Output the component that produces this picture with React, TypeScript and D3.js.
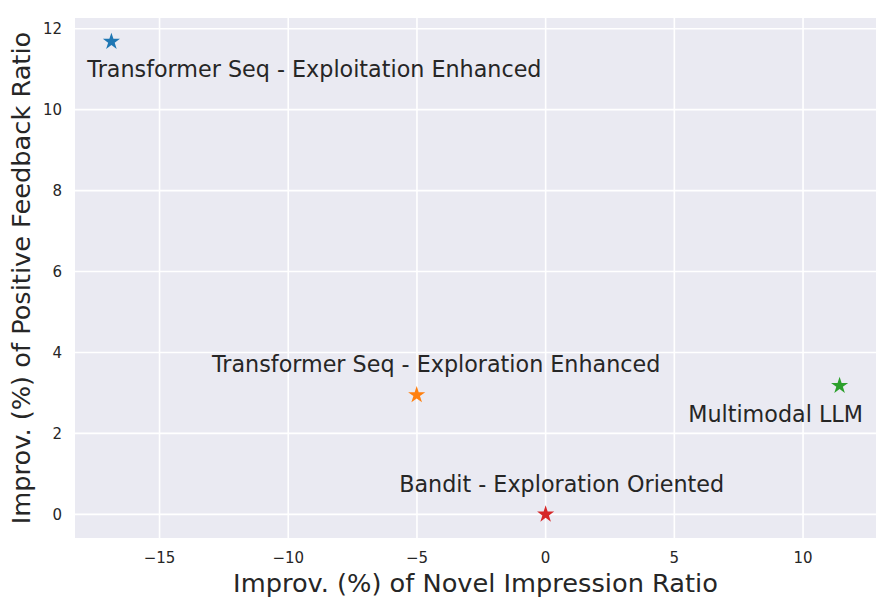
import React from "react";
import * as d3 from "d3";

const labels = [
  "Transformer Seq - Exploitation Enhanced",
  "Transformer Seq - Exploration Enhanced",
  "Multimodal LLM",
  "Bandit - Exploration Oriented",
];
const novelImpression = [-16.87, -5.01, 11.42, 0.0];
const positiveFeedback = [11.68, 2.95, 3.18, 0.0];
const colors = ["#1f77b4", "#ff7f0e", "#2ca02c", "#d62728"];
const xTicks = [-15, -10, -5, 0, 5, 10];
const yTicks = [0, 2, 4, 6, 8, 10, 12];
// label offsets in pixels relative to the point (dx to label center, dy to baseline)
const labelDx = [203, 19.5, -64, 16];
const labelDy = [35, -23, 36, -22];

const W = 892;
const H = 602;
const left = 75;
const right = 876;
const top = 18;
const bottom = 538;

function starPath(R: number) {
  const r = R * 0.381966;
  const pts: [number, number][] = d3.range(10).map((i) => {
    const a = (Math.PI / 5) * i - Math.PI / 2;
    const rad = i % 2 === 0 ? R : r;
    return [rad * Math.cos(a), rad * Math.sin(a)];
  });
  return d3.line()(pts) + "Z";
}

export default function App() {
  const xExt = d3.extent(novelImpression) as [number, number];
  const yExt = d3.extent(positiveFeedback) as [number, number];
  const xm = (xExt[1] - xExt[0]) * 0.05;
  const ym = (yExt[1] - yExt[0]) * 0.05;
  const x = d3.scaleLinear().domain([xExt[0] - xm, xExt[1] + xm]).range([left, right]);
  const y = d3.scaleLinear().domain([yExt[0] - ym, yExt[1] + ym]).range([bottom, top]);
  const star = starPath(9);
  const font = "DejaVu Sans, sans-serif";
  const txt = "#262626";
  return (
    <svg
      width={W}
      height={H}
      style={{ position: "absolute", left: 0, top: 0, background: "#fff" }}
      fontFamily={font}
    >
      <rect x={left} y={top} width={right - left} height={bottom - top} fill="#EAEAF2" />
      {xTicks.map((t) => (
        <line key={"gx" + t} x1={x(t)} x2={x(t)} y1={top} y2={bottom} stroke="#fff" strokeWidth={1.6} />
      ))}
      {yTicks.map((t) => (
        <line key={"gy" + t} x1={left} x2={right} y1={y(t)} y2={y(t)} stroke="#fff" strokeWidth={1.6} />
      ))}
      {xTicks.map((t) => (
        <text key={"tx" + t} x={x(t)} y={562.7} textAnchor="middle" fontSize={15} fill={txt}>
          {t < 0 ? "\u2212" + Math.abs(t) : String(t)}
        </text>
      ))}
      {yTicks.map((t) => (
        <text key={"ty" + t} x={62} y={y(t)} dy="0.36em" textAnchor="end" fontSize={15} fill={txt}>
          {String(t)}
        </text>
      ))}
      <text x={(left + right) / 2} y={592} textAnchor="middle" fontSize={25.65} fill={txt}>
        Improv. (%) of Novel Impression Ratio
      </text>
      <text
        transform={`translate(30, ${(top + bottom) / 2}) rotate(-90)`}
        textAnchor="middle"
        fontSize={25.65}
        fill={txt}
      >
        Improv. (%) of Positive Feedback Ratio
      </text>
      {labels.map((l, i) => (
        <g key={l}>
          <path
            d={star}
            transform={`translate(${x(novelImpression[i])}, ${y(positiveFeedback[i])})`}
            fill={colors[i]}
          />
          <text
            x={x(novelImpression[i]) + labelDx[i]}
            y={y(positiveFeedback[i]) + labelDy[i]}
            textAnchor="middle"
            fontSize={22.25}
            fill={txt}
          >
            {l}
          </text>
        </g>
      ))}
    </svg>
  );
}
